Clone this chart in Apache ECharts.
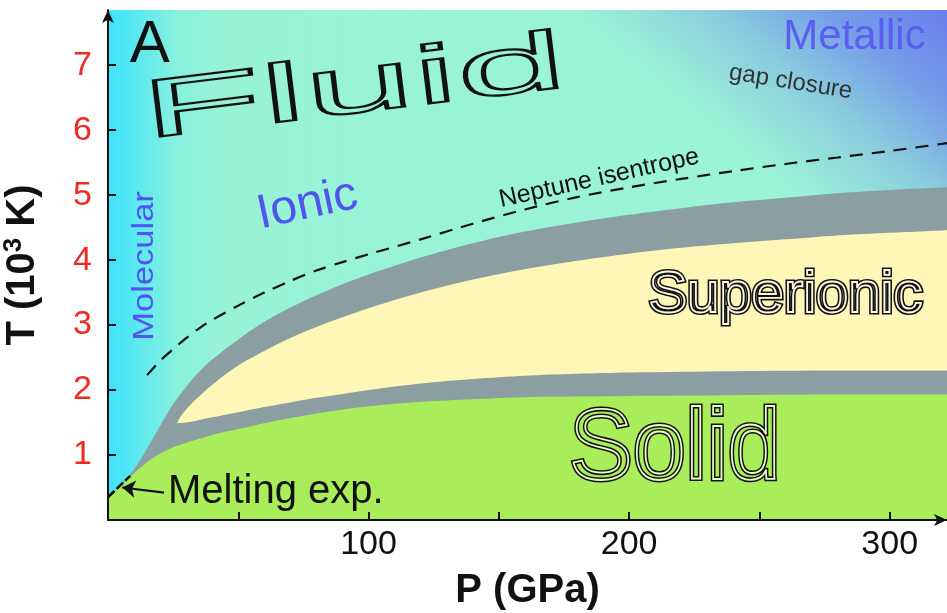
<!DOCTYPE html>
<html><head><meta charset="utf-8">
<script src="https://cdn.jsdelivr.net/npm/echarts@6/dist/echarts.min.js"></script>
<style>html,body{margin:0;padding:0;background:#fff}#c{width:947px;height:613px}</style>
</head><body><div id="c"></div>
<script>
// Axis ranges and ticks
const P_MIN = 0, P_MAX = 322, T_MIN = 0, T_MAX = 7.85;
const xTickValues = [50, 100, 150, 200, 250, 300];
const xLabelValues = [100, 200, 300];
const yTickValues = [1, 2, 3, 4, 5, 6, 7];
const yLabelValues = [1, 2, 3, 4, 5, 6, 7];

// Solid / fluid (melting) boundary: top of the green region
const solidP = [0, 5, 10, 15, 20, 25, 30, 35, 40, 50, 60, 70, 80, 90, 100, 120, 140, 160, 180, 200, 240, 280, 322];
const solidT = [0.35, 0.53, 0.72, 0.89, 1.02, 1.12, 1.19, 1.25, 1.31, 1.4, 1.49, 1.57, 1.64, 1.7, 1.75, 1.82, 1.86, 1.89, 1.9, 1.91, 1.92, 1.93, 1.93];

// Lower grey band top = bottom of superionic region
const supBotP = [26.5, 30, 35, 40, 50, 60, 70, 80, 90, 100, 120, 140, 160, 180, 200, 240, 280, 322];
const supBotT = [1.49, 1.5, 1.54, 1.58, 1.66, 1.74, 1.81, 1.88, 1.94, 2.0, 2.1, 2.17, 2.22, 2.25, 2.27, 2.29, 2.3, 2.3];

// Top of superionic region
const supTopP = [26.5, 28, 30, 33, 36, 40, 45, 50, 60, 70, 80, 90, 100, 120, 140, 160, 180, 200, 220, 240, 260, 280, 300, 322];
const supTopT = [1.49, 1.6, 1.7, 1.83, 1.94, 2.08, 2.24, 2.38, 2.6, 2.8, 2.97, 3.12, 3.26, 3.5, 3.7, 3.86, 3.99, 4.1, 4.19, 4.26, 4.32, 4.38, 4.42, 4.46];

// Fluid boundary: top of upper grey band
const fluidP = [0, 5, 10, 15, 20, 25, 30, 35, 40, 50, 60, 70, 80, 90, 100, 120, 140, 160, 180, 200, 220, 240, 260, 280, 300, 322];
const fluidT = [0.35, 0.55, 0.78, 1.1, 1.45, 1.78, 2.05, 2.28, 2.47, 2.78, 3.05, 3.27, 3.46, 3.63, 3.78, 4.04, 4.26, 4.44, 4.58, 4.7, 4.8, 4.89, 4.96, 5.03, 5.08, 5.12];

// Neptune isentrope (dashed)
const isoP = [15, 20, 25, 30, 35, 40, 50, 60, 70, 80, 90, 100, 120, 140, 160, 180, 200, 220, 240, 260, 280, 300, 322];
const isoT = [2.23, 2.45, 2.63, 2.8, 2.95, 3.08, 3.3, 3.5, 3.68, 3.84, 3.97, 4.09, 4.32, 4.56, 4.78, 4.97, 5.12, 5.25, 5.37, 5.48, 5.58, 5.68, 5.8];

// Melting experiment segment and its arrow
const meltExpP = [0, 8.5];
const meltExpT = [0.35, 0.68];
const arrowFrom = [21.5, 0.42];
const arrowTo = [5.5, 0.5];

// Text annotations (data coordinates)
const annoText = ['A', 'Fluid', 'Metallic', 'gap closure', 'Ionic', 'Molecular', 'Neptune isentrope', 'Superionic', 'Solid', 'Melting exp.'];
const annoP = [16, 94.5, 286.5, 262, 76.5, 14.2, 188.5, 260, 217.6, 23];
const annoT = [7.3, 6.62, 7.43, 6.74, 4.85, 3.91, 5.26, 3.45, 1.05, 0.43];

const zip = (a, b) => a.map((v, i) => [v, b[i]]);
const FONT = '"Liberation Sans", Arial, Helvetica, sans-serif';

const chart = echarts.init(document.getElementById('c'), null, {renderer: 'canvas'});

function area(name, data, color, z) {
  return {
    name, type: 'line', data, symbol: 'none', smooth: 0.3,
    lineStyle: {width: 0}, areaStyle: {color: color, opacity: 1, origin: 'start'},
    z: z, silent: true, animation: false
  };
}

const option = {
  animation: false,
  backgroundColor: '#ffffff',
  grid: {left: 108, right: 0, top: 10, bottom: 93, containLabel: false, outerBoundsMode: 'none'},
  xAxis: {
    type: 'value', min: P_MIN, max: P_MAX, z: 10,
    name: 'P (GPa)', nameLocation: 'middle', nameGap: 51, nameMoveOverlap: false,
    nameTextStyle: {fontSize: 40, fontWeight: 'bold', color: '#111', fontFamily: FONT},
    axisLine: {show: true, symbol: ['none', 'arrow'], symbolSize: [9, 13], lineStyle: {color: '#111', width: 2}},
    axisTick: {show: true, inside: true, length: 8, customValues: xTickValues, lineStyle: {color: '#111', width: 2}},
    axisLabel: {show: true, customValues: xLabelValues, margin: 8, fontSize: 34, color: '#111', fontFamily: FONT},
    splitLine: {show: false}
  },
  yAxis: {
    type: 'value', min: T_MIN, max: T_MAX, z: 10,
    name: '{a|T (10}{s|3}{a| K)}', nameLocation: 'middle', nameGap: 64, nameRotate: 90, nameMoveOverlap: false,
    nameTextStyle: {
      color: '#111', fontFamily: FONT,
      rich: {
        a: {fontSize: 40, fontWeight: 'bold', color: '#111', fontFamily: FONT},
        s: {fontSize: 26, fontWeight: 'bold', color: '#111', fontFamily: FONT, padding: [0, 0, 17, 0]}
      }
    },
    axisLine: {show: true, symbol: ['none', 'arrow'], symbolSize: [9, 13], lineStyle: {color: '#111', width: 2}},
    axisTick: {show: true, inside: true, length: 8, customValues: yTickValues, lineStyle: {color: '#111', width: 2}},
    axisLabel: {show: true, customValues: yLabelValues, margin: 16, fontSize: 34, color: '#ee2a22', fontFamily: FONT},
    splitLine: {show: false}
  },
  series: [
    area('fluid-bg', [[P_MIN, T_MAX], [P_MAX, T_MAX]], {
      type: 'linear', x: 0, y: 0, x2: 1, y2: 0,
      colorStops: [
        {offset: 0, color: '#3fe2fb'},
        {offset: 0.025, color: '#52e7f3'},
        {offset: 0.08, color: '#86f0de'},
        {offset: 0.13, color: '#98f3d6'},
        {offset: 1, color: '#9cf4d6'}
      ]
    }, 1),
    area('metallic-bg', [[P_MIN, T_MAX], [P_MAX, T_MAX]], {
      type: 'linear', x: 0.7, y: 0.6, x2: 1, y2: 0,
      colorStops: [
        {offset: 0, color: 'rgba(104,126,238,0)'},
        {offset: 0.4, color: 'rgba(104,126,238,0)'},
        {offset: 0.62, color: 'rgba(104,126,238,0.32)'},
        {offset: 0.8, color: 'rgba(104,126,238,0.72)'},
        {offset: 1, color: 'rgba(100,120,238,0.95)'}
      ]
    }, 2),
    area('upper-band', zip(fluidP, fluidT), '#8b9fa2', 3),
    area('superionic', zip(supTopP, supTopT), '#fff6b8', 4),
    area('lower-band', zip(supBotP, supBotT), '#8b9fa2', 5),
    area('solid', zip(solidP, solidT), '#a9ee5a', 6),
    {
      name: 'Neptune isentrope', type: 'line', data: zip(isoP, isoT), symbol: 'none',
      smooth: 0.3, z: 7, silent: true,
      lineStyle: {color: '#111', width: 2.2, type: [13, 9]}
    },
    {
      name: 'Melting exp.', type: 'line', data: zip(meltExpP, meltExpT), symbol: 'none', z: 8, silent: true,
      lineStyle: {color: '#111', width: 2.6, type: [9, 3]}
    },
    {
      name: 'arrow', type: 'lines', coordinateSystem: 'cartesian2d', z: 9, silent: true,
      symbol: ['none', 'arrow'], symbolSize: 13,
      lineStyle: {color: '#111', width: 2.2, opacity: 1, curveness: 0},
      data: [{coords: [arrowFrom, arrowTo]}]
    }
  ]
};
chart.setOption(option);

// Annotation styling
const deg = d => d * Math.PI / 180;
const styles = {
  'A': {font: '60px ' + FONT, fill: '#111', rot: 0, sx: 1},
  'Fluid': {font: '82px ' + FONT, fill: 'rgba(0,0,0,0)', stroke: '#111', lw: 2.2, rot: 7, sx: 2.4},
  'Metallic': {font: '42px ' + FONT, fill: '#5a5ef0', rot: 0, sx: 1},
  'gap closure': {font: '24px ' + FONT, fill: '#333', rot: -9, sx: 1},
  'Ionic': {font: '48px ' + FONT, fill: '#4f55ee', rot: 12, sx: 1},
  'Molecular': {font: '30px ' + FONT, fill: '#4f55ee', rot: 90, sx: 1.15},
  'Neptune isentrope': {font: '25px ' + FONT, fill: '#111', rot: 12.5, sx: 1},
  'Superionic': {font: '58px ' + FONT, fill: 'rgba(0,0,0,0)', stroke: '#111', lw: 5, inner: '#fffbe0', rot: 0, sx: 1},
  'Solid': {font: '100px ' + FONT, fill: 'rgba(0,0,0,0)', stroke: '#111', lw: 5, inner: '#e9fbc8', rot: 0, sx: 0.95},
  'Melting exp.': {font: '40px ' + FONT, fill: '#111', rot: 0, sx: 1, align: 'left'}
};
const graphics = [];
annoText.forEach((t, i) => {
  const px = chart.convertToPixel({gridIndex: 0}, [annoP[i], annoT[i]]);
  const s = styles[t];
  graphics.push({
    type: 'text', x: px[0], y: px[1], rotation: deg(s.rot), scaleX: s.sx, z: 100, silent: true,
    style: {text: t, font: s.font, fill: s.fill, align: s.align || 'center', verticalAlign: 'middle',
      stroke: s.stroke || null, lineWidth: s.lw || 0, strokeNoScale: true}
  });
  if (s.inner) {
    graphics.push({
      type: 'text', x: px[0], y: px[1], rotation: deg(s.rot), scaleX: s.sx, z: 101, silent: true,
      style: {text: t, font: s.font, fill: 'rgba(0,0,0,0)', align: 'center', verticalAlign: 'middle',
        stroke: s.inner, lineWidth: 1.8, strokeNoScale: true}
    });
  }
});
chart.setOption({graphic: graphics});
</script>
</body></html>
